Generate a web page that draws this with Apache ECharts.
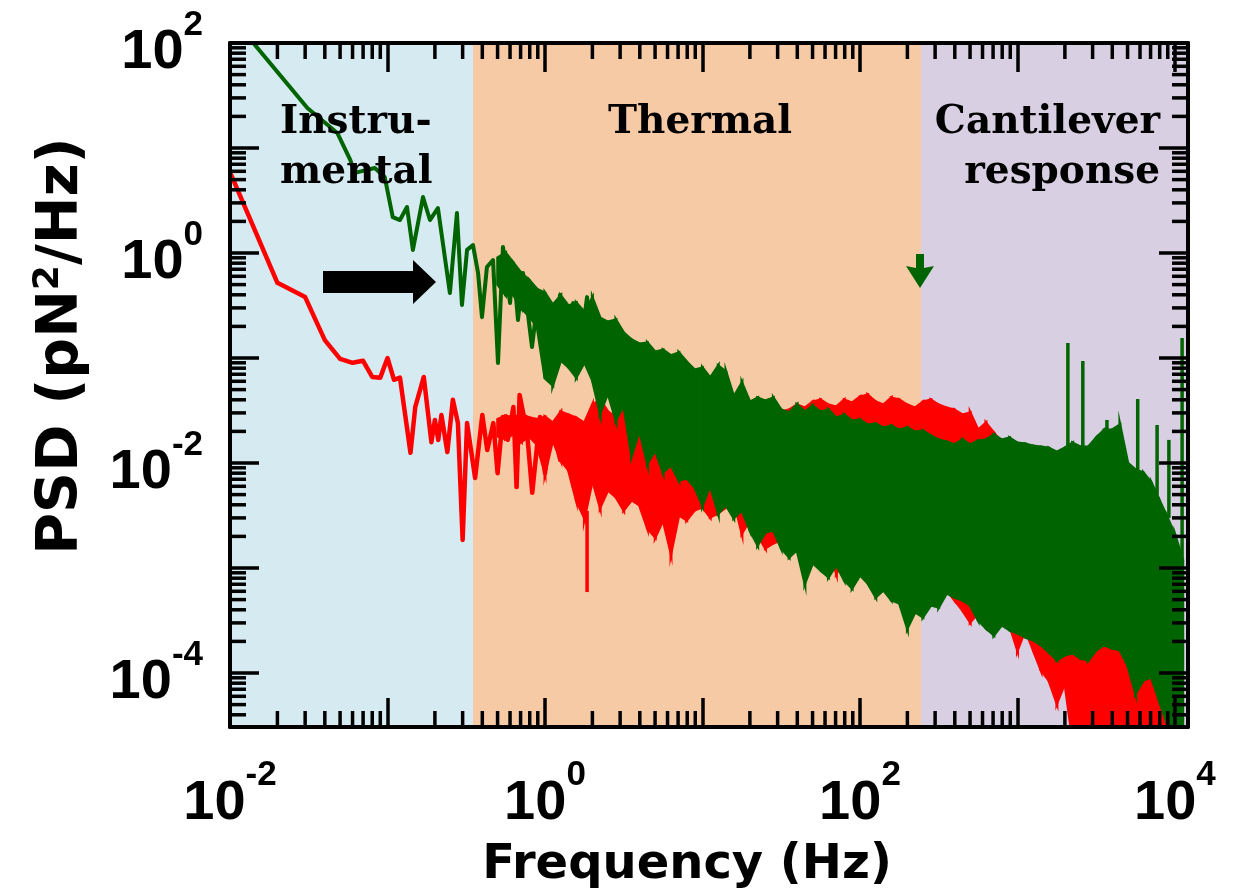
<!DOCTYPE html>
<html>
<head>
<meta charset="utf-8">
<script src="https://cdn.jsdelivr.net/npm/echarts@6/dist/echarts.min.js"></script>
<style>
  html, body { margin: 0; padding: 0; background: #ffffff; }
  #chart { width: 1235px; height: 890px; }
</style>
</head>
<body>
<div id="chart"></div>
<script>
// Axis ranges (Hz, pN^2/Hz)
const F_MIN = 0.01, F_MAX = 12100;
const PSD_MIN = 3.06e-5, PSD_MAX = 100;

// Frequency regions: instrumental | thermal | cantilever response
const regionEdges = [0.01, 0.349, 244, 12100];
const regionNames = ['Instrumental', 'Thermal', 'Cantilever response'];

// Low-frequency part of each spectrum: [frequency, PSD]
const redLine = [
  [0.01, 5.9], [0.02, 0.52], [0.03, 0.38], [0.04, 0.148], [0.05, 0.098], [0.06, 0.090],
  [0.07, 0.094], [0.08, 0.066], [0.09, 0.065], [0.10, 0.100], [0.11, 0.062], [0.12, 0.065],
  [0.14, 0.0125], [0.15, 0.034], [0.17, 0.066], [0.19, 0.0158], [0.20, 0.0257], [0.21, 0.0166],
  [0.22, 0.0286], [0.24, 0.0127], [0.26, 0.040], [0.28, 0.024], [0.30, 0.00185], [0.32, 0.024],
  [0.36, 0.0072], [0.40, 0.0286], [0.43, 0.0133], [0.47, 0.024], [0.50, 0.0080], [0.54, 0.0274],
  [0.58, 0.0166], [0.63, 0.0341], [0.66, 0.0059], [0.69, 0.0445], [0.77, 0.0193], [0.83, 0.0052],
  [0.93, 0.0274], [1.0, 0.0080], [1.1, 0.024], [1.25, 0.0107], [1.4, 0.0286]
];
const greenLine = [
  [0.01, 185], [0.031, 24], [0.048, 13.9], [0.058, 7.7], [0.062, 5.8], [0.083, 6.45],
  [0.096, 5.3], [0.108, 2.2], [0.12, 2.06], [0.133, 2.74], [0.145, 1.07], [0.168, 3.41],
  [0.186, 2.06], [0.209, 2.68], [0.249, 0.416], [0.276, 2.40], [0.297, 0.32], [0.320, 1.07],
  [0.349, 1.19], [0.376, 0.645], [0.398, 0.245], [0.428, 0.736], [0.468, 0.857], [0.503, 0.0896],
  [0.541, 1.14], [0.600, 0.334], [0.627, 0.80], [0.674, 0.23], [0.725, 0.645], [0.827, 0.127],
  [0.903, 0.38], [1.107, 0.0578], [1.245, 0.398], [1.38, 0.0896], [1.51, 0.334], [1.60, 0.072],
  [1.85, 0.38], [2.02, 0.066], [2.23, 0.23]
];

// Dense part of the spectra: upper / lower envelope of the noise band
const bandFreq = [
  0.501, 0.562, 0.631, 0.708, 0.794, 0.891,
  1, 1.12, 1.26, 1.41, 1.58, 1.78, 2, 2.24, 2.51, 2.82, 3.16, 3.55, 3.98, 4.47, 5.01, 5.62, 6.31, 7.08, 7.94, 8.91,
  10, 11.2, 12.6, 14.1, 15.8, 17.8, 20, 22.4, 25.1, 28.2, 31.6, 35.5, 39.8, 44.7, 50.1, 56.2, 63.1, 70.8, 79.4, 89.1,
  100, 112, 126, 141, 158, 178, 200, 224, 251, 282, 316, 355, 398, 447, 501, 562, 631, 708, 794, 891,
  1000, 1120, 1260, 1410, 1580, 1780, 2000, 2240, 2510, 2820, 3160, 3550, 3980, 4470, 5010, 5620, 6310, 7080, 7940, 8910,
  10000, 11200
];
const greenHigh = [
  0.9, 1.0, 0.8, 0.64, 0.55, 0.45,
  0.416, 0.320, 0.390, 0.313, 0.334, 0.274, 0.373, 0.240, 0.220, 0.230, 0.173, 0.149, 0.136, 0.139, 0.114, 0.119, 0.105, 0.112, 0.0916, 0.0769,
  0.0803, 0.0645, 0.0839, 0.0736, 0.0425, 0.0578, 0.0381, 0.0416, 0.0390, 0.0416, 0.0320, 0.0300, 0.0357, 0.0306, 0.0349, 0.0306, 0.0320, 0.0268, 0.0287, 0.0251,
  0.0257, 0.0230, 0.0235, 0.0216, 0.0225, 0.0206, 0.0216, 0.0197, 0.0202, 0.0181, 0.0166, 0.0159, 0.0149, 0.0166, 0.0149, 0.0162, 0.0166, 0.0185, 0.0166, 0.0173,
  0.0155, 0.0152, 0.0145, 0.0142, 0.0139, 0.0127, 0.0139, 0.0155, 0.0142, 0.0142, 0.0173, 0.0206, 0.0206, 0.0230, 0.0100, 0.00858, 0.00803, 0.00645, 0.00444, 0.00306,
  0.00206, 0.00119
];
const greenLow = [
  0.5, 0.4, 0.4, 0.3, 0.25, 0.2,
  0.0645, 0.0553, 0.0957, 0.0821, 0.0659, 0.0916, 0.0617, 0.0300, 0.0464, 0.0257, 0.0357, 0.0119, 0.0206, 0.0100, 0.0133, 0.00821, 0.00957, 0.00689, 0.00720, 0.00591,
  0.00398, 0.00617, 0.00334, 0.00398, 0.00300, 0.00357, 0.00230, 0.00166, 0.00220, 0.00230, 0.00155, 0.00127, 0.00149, 0.000720, 0.00112, 0.000957, 0.000821, 0.00107, 0.000769, 0.000645,
  0.000858, 0.000720, 0.000530, 0.000617, 0.000496, 0.000464, 0.000268, 0.000381, 0.000342, 0.000444, 0.000425, 0.000578, 0.000530, 0.000496, 0.000444, 0.000320, 0.000268, 0.000230, 0.000287, 0.000257,
  0.000240, 0.000220, 0.000206, 0.000185, 0.000159, 0.000133, 0.000149, 0.000155, 0.000139, 0.000133, 0.000166, 0.000185, 0.000173, 0.000166, 0.000119, 0.0000645, 0.0000858, 0.0000916, 0.0000553, 0.0000334,
  0.000023, 0.000023
];
const redHigh = [
  0.026, 0.028, 0.027, 0.029, 0.027, 0.026,
  0.0274, 0.0240, 0.0306, 0.0287, 0.0268, 0.0240, 0.0357, 0.0398, 0.0306, 0.0274, 0.0320, 0.0257, 0.0287, 0.0257, 0.0268, 0.0230, 0.0257, 0.0206, 0.0230, 0.0216,
  0.0230, 0.0216, 0.0257, 0.0230, 0.0268, 0.0287, 0.0320, 0.0398, 0.0334, 0.0357, 0.0306, 0.0320, 0.0357, 0.0334, 0.0381, 0.0398, 0.0357, 0.0342, 0.0398, 0.0373,
  0.0425, 0.0444, 0.0381, 0.0357, 0.0416, 0.0398, 0.0357, 0.0334, 0.0381, 0.0398, 0.0357, 0.0334, 0.0320, 0.0287, 0.0300, 0.0206, 0.0240, 0.0193, 0.0155, 0.0119,
  0.00858, 0.00689, 0.00553, 0.00444, 0.00357, 0.00287, 0.00230, 0.00185, 0.00149, 0.00119, 0.000957, 0.000858, 0.000689, 0.000617, 0.000496, 0.000398, 0.000320, 0.000206, 0.000166, 0.0000858
];
const redLow = [
  0.018, 0.017, 0.019, 0.016, 0.018, 0.015,
  0.00803, 0.0166, 0.0107, 0.00858, 0.00444, 0.00300, 0.00689, 0.00381, 0.00553, 0.00475, 0.00357, 0.00444, 0.00398, 0.00240, 0.00197, 0.00287, 0.00139, 0.00320, 0.00287, 0.00357,
  0.00381, 0.00306, 0.00334, 0.00381, 0.00444, 0.00216, 0.00287, 0.00206, 0.00155, 0.00173, 0.00185, 0.00166, 0.00149, 0.00155, 0.00149, 0.00133, 0.00159, 0.000896, 0.00119, 0.00107,
  0.000957, 0.000858, 0.000769, 0.000689, 0.000617, 0.000578, 0.000689, 0.000617, 0.000659, 0.000617, 0.000617, 0.000617, 0.000496, 0.000398, 0.000306, 0.000373, 0.000357, 0.000320, 0.000320, 0.000287,
  0.000166, 0.000257, 0.000166, 0.000107, 0.0000858, 0.0000518, 0.0000803, 0.000023, 0.000023, 0.000023, 0.000023, 0.000023, 0.000023, 0.000023, 0.000023, 0.000023, 0.000023, 0.000023, 0.000023, 0.000023
];

// Narrow isolated peaks / dips: [frequency, from PSD, to PSD]
const greenSpikes = [
  [2090, 0.014, 0.139], [2600, 0.014, 0.0936], [3700, 0.02, 0.0257], [5800, 0.008, 0.0407],
  [7700, 0.005, 0.023], [9150, 0.003, 0.0166], [11100, 0.00005, 0.155]
];
const redSpikes = [[1.85, 0.0035, 0.00059]];

// Minor tick positions (log decades)
const minorMantissas = [2, 3, 4, 5, 6, 7, 8, 9];
const xDecades = [0.01, 0.1, 1, 10, 100, 1000];
const yDecades = [0.00001, 0.0001, 0.001, 0.01, 0.1, 1, 10];

const GREEN = '#006400';
const RED = '#ff0000';
const REGION_COLORS = ['#d6eaf1', '#f7caa6', '#d8cfe2'];

const xMinorTicks = [];
xDecades.forEach(d => minorMantissas.forEach(m => {
  const v = +(d * m).toPrecision(3);
  if (v > F_MIN && v < F_MAX) xMinorTicks.push([v, PSD_MIN]);
}));
const yMinorTicks = [];
yDecades.forEach(d => minorMantissas.forEach(m => {
  const v = +(d * m).toPrecision(3);
  if (v > PSD_MIN && v < PSD_MAX) yMinorTicks.push([F_MIN, v]);
}));

const chart = echarts.init(document.getElementById('chart'), null, { renderer: 'canvas' });

const LABEL_FONT = 'Liberation Sans';
const tickRich = {
  b: { fontSize: 56, fontWeight: 'bold', fontFamily: LABEL_FONT, color: '#000' },
  s: { fontSize: 35, fontWeight: 'bold', fontFamily: LABEL_FONT, color: '#000', padding: [0, 0, 56, 0] }
};
function powLabel(v) {
  const e = Math.log10(v);
  const r = Math.round(e);
  if (Math.abs(e - r) > 1e-6 || r % 2 !== 0) return '';
  return '{b|10}{s|' + r + '}';
}

const frameAxis = {
  type: 'log',
  logBase: 10,
  z: 20,
  axisLine: { show: true, onZero: false, lineStyle: { color: '#000', width: 4 } },
  axisTick: { show: true, inside: true, length: 29, lineStyle: { color: '#000', width: 3.5 } },
  splitLine: { show: false },
  minorTick: { show: false },
  minorSplitLine: { show: false }
};

// Band between two envelope curves, drawn one segment at a time
function bandRenderer(color) {
  return function (params, api) {
    const i = params.dataIndexInside;
    if (i >= params.dataInsideLength - 1) return null;
    const p1 = api.coord([api.value(0), api.value(1)]);
    const p2 = api.coord([api.value(0, i + 1), api.value(1, i + 1)]);
    const p3 = api.coord([api.value(0, i + 1), api.value(2, i + 1)]);
    const p4 = api.coord([api.value(0), api.value(2)]);
    return {
      type: 'polygon',
      shape: { points: [p1, p2, p3, p4] },
      style: { fill: color, stroke: color, lineWidth: 3, lineJoin: 'miter' }
    };
  };
}
function spikeRenderer(color, width) {
  return function (params, api) {
    const a = api.coord([api.value(0), api.value(1)]);
    const b = api.coord([api.value(0), api.value(2)]);
    return { type: 'line', shape: { x1: a[0], y1: a[1], x2: b[0], y2: b[1] }, style: { stroke: color, lineWidth: width } };
  };
}

const serifText = { fontFamily: 'DejaVu Serif', fontWeight: 'bold', fontSize: 39, fill: '#000', verticalAlign: 'middle' };

const option = {
  animation: false,
  backgroundColor: '#ffffff',
  grid: { left: 230, right: 47, top: 43, bottom: 163, containLabel: false, outerBoundsMode: 'none' },
  xAxis: [
    Object.assign({}, frameAxis, {
      position: 'bottom', min: F_MIN, max: F_MAX,
      axisLabel: { show: true, margin: 31, formatter: powLabel, rich: tickRich },
      name: 'Frequency (Hz)', nameLocation: 'middle', nameGap: 115,
      nameTextStyle: { fontFamily: 'DejaVu Sans', fontWeight: 'bold', fontSize: 48, color: '#000', padding: [0, 44, 0, 0] }
    }),
    Object.assign({}, frameAxis, { position: 'top', min: F_MIN, max: F_MAX, axisLabel: { show: false } })
  ],
  yAxis: [
    Object.assign({}, frameAxis, {
      position: 'left', min: PSD_MIN, max: PSD_MAX,
      axisLabel: { show: true, margin: 27, formatter: powLabel, rich: tickRich, padding: [20, 0, 0, 0] },
      name: '{t|PSD (pN}{s|2}{t|/Hz)}', nameLocation: 'middle', nameGap: 137,
      nameTextStyle: {
        padding: [0, 0, 0, 78],
        rich: {
          t: { fontFamily: 'DejaVu Sans', fontWeight: 'bold', fontSize: 57, color: '#000' },
          s: { fontFamily: 'DejaVu Sans', fontWeight: 'bold', fontSize: 36, color: '#000', padding: [0, 0, 26, 0] }
        }
      }
    }),
    Object.assign({}, frameAxis, { position: 'right', min: PSD_MIN, max: PSD_MAX, axisLabel: { show: false } })
  ],
  series: [
    {
      name: 'regions', type: 'custom', silent: true, z: 0, clip: true,
      data: regionNames.map((n, i) => [regionEdges[i], regionEdges[i + 1]]),
      encode: { x: [0, 1] },
      renderItem: function (params, api) {
        const a = api.coord([api.value(0), PSD_MAX]);
        const b = api.coord([api.value(1), PSD_MIN]);
        return { type: 'rect', shape: { x: a[0], y: a[1], width: b[0] - a[0], height: b[1] - a[1] },
                 style: { fill: REGION_COLORS[params.dataIndex] } };
      }
    },
    {
      name: 'red band', type: 'custom', silent: true, z: 2, clip: true,
      data: redHigh.map((v, i) => [bandFreq[i], v, redLow[i]]),
      encode: { x: 0, y: [1, 2] },
      renderItem: bandRenderer(RED)
    },
    {
      name: 'red', type: 'line', z: 3, clip: true, showSymbol: false, silent: true,
      data: redLine,
      lineStyle: { color: RED, width: 4.5, join: 'round' }
    },
    {
      name: 'red spikes', type: 'custom', silent: true, z: 3, clip: true,
      data: redSpikes, encode: { x: 0, y: [1, 2] },
      renderItem: spikeRenderer(RED, 3.5)
    },
    {
      name: 'green band', type: 'custom', silent: true, z: 4, clip: true,
      data: greenHigh.map((v, i) => [bandFreq[i], v, greenLow[i]]),
      encode: { x: 0, y: [1, 2] },
      renderItem: bandRenderer(GREEN)
    },
    {
      name: 'green', type: 'line', z: 5, clip: true, showSymbol: false, silent: true,
      data: greenLine,
      lineStyle: { color: GREEN, width: 4, join: 'round' }
    },
    {
      name: 'green spikes', type: 'custom', silent: true, z: 5, clip: true,
      data: greenSpikes, encode: { x: 0, y: [1, 2] },
      renderItem: spikeRenderer(GREEN, 3.5)
    },
    {
      name: 'x minor ticks', type: 'custom', silent: true, z: 30,
      data: xMinorTicks, encode: { x: 0, y: 1 },
      renderItem: function (params, api) {
        const cs = params.coordSys;
        const x = api.coord([api.value(0), PSD_MIN])[0];
        const st = { stroke: '#000', lineWidth: 3.5 };
        return { type: 'group', children: [
          { type: 'line', shape: { x1: x, y1: cs.y + cs.height, x2: x, y2: cs.y + cs.height - 16 }, style: st },
          { type: 'line', shape: { x1: x, y1: cs.y, x2: x, y2: cs.y + 16 }, style: st }
        ] };
      }
    },
    {
      name: 'y minor ticks', type: 'custom', silent: true, z: 30,
      data: yMinorTicks, encode: { x: 0, y: 1 },
      renderItem: function (params, api) {
        const cs = params.coordSys;
        const y = api.coord([F_MIN, api.value(1)])[1];
        const st = { stroke: '#000', lineWidth: 3.5 };
        return { type: 'group', children: [
          { type: 'line', shape: { x1: cs.x, y1: y, x2: cs.x + 16, y2: y }, style: st },
          { type: 'line', shape: { x1: cs.x + cs.width, y1: y, x2: cs.x + cs.width - 16, y2: y }, style: st }
        ] };
      }
    }
  ],
  graphic: [
    { type: 'text', z: 100, x: 280, y: 123, style: Object.assign({ text: 'Instru-', align: 'left' }, serifText) },
    { type: 'text', z: 100, x: 280, y: 173, style: Object.assign({ text: 'mental', align: 'left' }, serifText) },
    { type: 'text', z: 100, x: 608, y: 123, style: Object.assign({ text: 'Thermal', align: 'left' }, serifText) },
    { type: 'text', z: 100, x: 1160, y: 123, style: Object.assign({ text: 'Cantilever', align: 'right' }, serifText) },
    { type: 'text', z: 100, x: 1160, y: 173, style: Object.assign({ text: 'response', align: 'right' }, serifText) },
    { type: 'polygon', z: 100, shape: { points: [[323, 271], [413, 271], [413, 260], [436, 282], [413, 304], [413, 293], [323, 293]] }, style: { fill: '#000' } },
    { type: 'polygon', z: 100, shape: { points: [[916, 254], [924, 254], [924, 268], [934, 266], [920, 288], [906, 266], [916, 268]] }, style: { fill: GREEN } }
  ]
};

chart.setOption(option);
</script>
</body>
</html>
